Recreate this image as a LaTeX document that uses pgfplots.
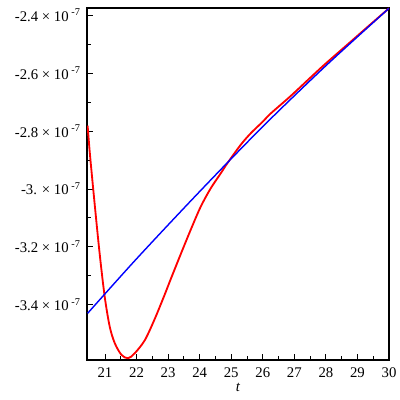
\documentclass[border=0pt]{standalone}
\usepackage{fontspec}
\setmainfont{Liberation Serif}
\usepackage{pgfplots}
\pgfplotsset{compat=1.18}

\begin{document}
\begin{tikzpicture}
\begin{axis}[
    scale only axis,
    width=7.55cm,
    height=8.8cm,
    xmin=20.43, xmax=30,
    ymin=-3.59e-7, ymax=-2.376e-7,
    xtick={21,22,...,30},
    minor x tick num=1,
    ytick={-3.4e-7,-3.2e-7,-3.0e-7,-2.8e-7,-2.6e-7,-2.4e-7},
    yticklabels={-3.4 × 10\textsuperscript{ -7},-3.2 × 10\textsuperscript{ -7},-3. × 10\textsuperscript{ -7},-2.8 × 10\textsuperscript{ -7},-2.6 × 10\textsuperscript{ -7},-2.4 × 10\textsuperscript{ -7}},
    minor y tick num=1,
    scaled y ticks=false,
    tick align=inside,
    xtick pos=bottom, ytick pos=left,
    major tick length=4pt,
    minor tick length=3pt,
    tick style={black, line width=0.6pt},
    axis line style={black, line width=0.8pt},
    tick label style={font=\fontsize{10.5}{12}\selectfont},
    xticklabel style={yshift=-2pt},
    yticklabel style={xshift=-1pt},
    /pgf/number format/assume math mode=true,
    xlabel={\textit{t}},
    xlabel style={font=\fontsize{10.5}{12}\selectfont, yshift=3pt},
]
\addplot[red, line width=1.3pt, smooth] coordinates {
    (20.45,-2.782e-7) (20.52,-2.877e-7) (20.67,-3.049e-7) (20.83,-3.222e-7)
    (20.99,-3.371e-7) (21.15,-3.475e-7) (21.31,-3.532e-7) (21.52,-3.572e-7)
    (21.73,-3.584e-7) (21.94,-3.567e-7) (22.26,-3.522e-7) (22.57,-3.450e-7)
    (22.89,-3.365e-7) (23.08,-3.312e-7) (23.40,-3.225e-7) (23.72,-3.140e-7)
    (24.03,-3.062e-7) (24.35,-2.998e-7) (24.67,-2.946e-7) (24.88,-2.911e-7)
    (25.30,-2.848e-7) (25.62,-2.808e-7) (26.00,-2.768e-7) (26.25,-2.740e-7)
    (26.88,-2.680e-7) (27.52,-2.615e-7) (28.00,-2.567e-7) (28.79,-2.492e-7)
    (29.26,-2.447e-7) (30.00,-2.377e-7)
};
\addplot[blue, line width=1.0pt, smooth] coordinates {
    (20.45,-3.429e-7) (22.00,-3.241e-7) (24.00,-3.009e-7)
    (26.00,-2.785e-7) (28.00,-2.575e-7) (30.00,-2.377e-7)
};
\end{axis}
\pgfresetboundingbox
\path[use as bounding box] (-2.175cm,-1.0cm) rectangle (7.825cm,9.0cm);
\end{tikzpicture}
\end{document}
